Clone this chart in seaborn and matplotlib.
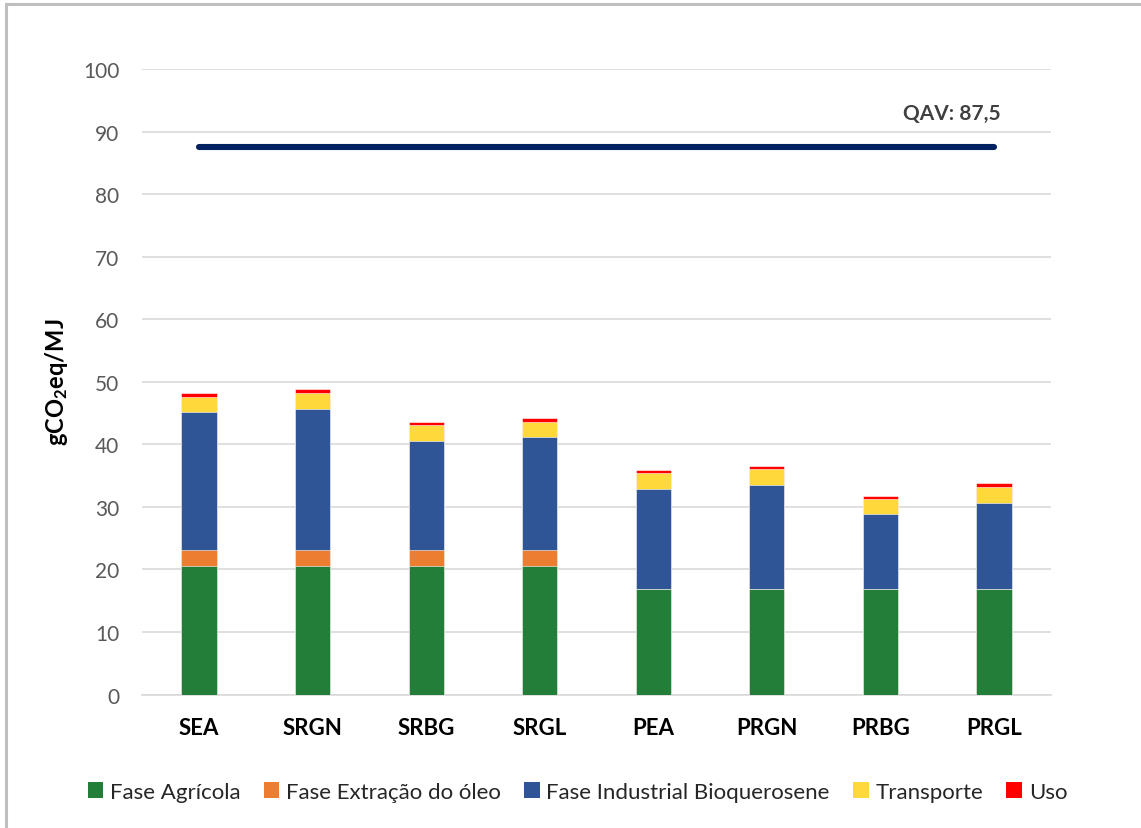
import matplotlib
matplotlib.use("Agg")
import matplotlib.pyplot as plt
import seaborn as sns
import pandas as pd
import numpy as np
from matplotlib.patches import Patch, Rectangle

# Emission profile per route (gCO2eq/MJ)
routes = ["SEA", "SRGN", "SRBG", "SRGL", "PEA", "PRGN", "PRBG", "PRGL"]
fase_agricola = [20.5, 20.5, 20.5, 20.5, 16.8, 16.8, 16.8, 16.8]
fase_extracao = [2.6, 2.6, 2.6, 2.6, 0.0, 0.0, 0.0, 0.0]
fase_industrial = [22.0, 22.6, 17.5, 18.0, 16.1, 16.7, 12.0, 13.9]
transporte = [2.5, 2.55, 2.5, 2.55, 2.5, 2.55, 2.5, 2.55]
uso = [0.6, 0.55, 0.5, 0.6, 0.5, 0.55, 0.5, 0.5]
qav_ref = 87.5

stages = ["Fase Agrícola", "Fase Extração do óleo", "Fase Industrial Bioquerosene",
          "Transporte", "Uso"]
colors = ["#237E3A", "#ED7D31", "#2F5597", "#FFD93B", "#FF0000"]

df = pd.DataFrame({
    "rota": routes,
    stages[0]: fase_agricola,
    stages[1]: fase_extracao,
    stages[2]: fase_industrial,
    stages[3]: transporte,
    stages[4]: uso,
})

sns.set_theme(style="white")
plt.rcParams["font.family"] = ["Lato", "DejaVu Sans"]
plt.rcParams["mathtext.fontset"] = "custom"
plt.rcParams["mathtext.bf"] = "Lato:bold"
plt.rcParams["mathtext.rm"] = "Lato:bold"
plt.rcParams["mathtext.default"] = "bf"

fig = plt.figure(figsize=(11.41, 8.29), dpi=100)
ax = fig.add_axes([142.25 / 1141, 1 - 695.6 / 829, (1050.75 - 142.25) / 1141, (695.6 - 70) / 829])

# stacked bars: each layer is drawn at its running total, lower layers on top
cum = np.zeros(len(routes))
for i, (stage, col) in enumerate(zip(stages, colors)):
    tops = cum + df[stage].to_numpy()
    sns.barplot(x=df["rota"], y=tops, color=col, width=0.31, ax=ax,
                saturation=1, edgecolor="white", linewidth=0.4)
    for bar in ax.containers[-1]:
        bar.set_zorder(10 - i)
    cum = tops

# reference line for fossil jet fuel
sns.lineplot(x=[0, 7], y=[qav_ref, qav_ref], ax=ax, color="#002060", linewidth=4.4,
             solid_capstyle="round", zorder=20)
ax.text(7.06, 93.0, "QAV: 87,5", ha="right", va="center", fontsize=15,
        fontweight="bold", color="#404040", zorder=21)

ax.set_xlim(-0.5, 7.5)
ax.set_ylim(0, 100)
ax.set_yticks(np.arange(0, 101, 10))
ax.yaxis.grid(True, color="#D9D9D9", linewidth=1.2)
ax.set_axisbelow(True)
for s in ["top", "right", "left"]:
    ax.spines[s].set_visible(False)
ax.spines["bottom"].set_color("#D9D9D9")
ax.spines["bottom"].set_linewidth(1.2)
ax.tick_params(axis="y", length=0, pad=16.5, labelsize=15, labelcolor="#595959")
ax.tick_params(axis="x", length=0, pad=16, labelsize=16)
for lbl in ax.get_xticklabels():
    lbl.set_fontweight("bold")
    lbl.set_color("black")
ax.set_xlabel("")
ax.set_ylabel(r"gCO$_2$eq/MJ", fontsize=17, fontweight="bold", color="black", labelpad=9)

handles = [Patch(facecolor=c, edgecolor="none") for c in colors]
fig.legend(handles, stages, loc="center", bbox_to_anchor=(0.506, 1 - 793 / 829), ncol=5,
           frameon=False, fontsize=16, handlelength=0.7, handleheight=0.7,
           handletextpad=0.3, columnspacing=1.05, labelcolor="#262626")

# outer chart border
fig.patches.append(Rectangle((6 / 1141, -0.1), 1.2, 1 - 5 / 829 + 0.1, transform=fig.transFigure,
                             fill=False, edgecolor="#BFBFBF", linewidth=2.2, zorder=0))

fig.savefig("out.png", dpi=100, facecolor="white")
